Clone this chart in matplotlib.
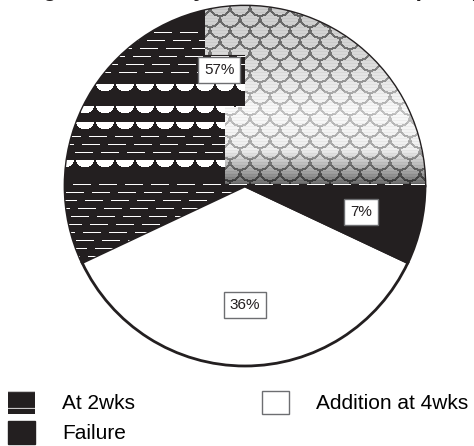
import numpy as np
import matplotlib.pyplot as plt
from matplotlib.patches import Patch

plt.rcParams['font.family'] = ['Liberation Sans', 'DejaVu Sans']
plt.rcParams['hatch.linewidth'] = 0.6

# Data
labels = ['At 2wks', 'Addition at 4wks', 'Failure']
shares = [57, 36, 7]
title = 'Timing of Secondary Dose Modification (n=14)'

black = '#231f20'
grey_edge = '#6d6e71'


def scale_texture(n=360):
    # RGBA texture for the 57% wedge (scan-like fish scales + white dashes)
    X = np.arange(n)[None, :] + 65.5 + np.zeros((n, 1))
    Y = np.arange(n)[:, None] + 6.5 + np.zeros((1, n))
    rgba = np.zeros((n, n, 4))

    grey = (Y < 184) & ((X > 245) | ((Y < 55) & (X > 205)) | ((Y > 107) & (X > 225)))
    base = np.interp(Y, [6, 60, 110, 150, 172, 184], [0.80, 0.86, 0.98, 0.94, 0.64, 0.42])
    ring = np.interp(Y, [6, 60, 110, 150, 172, 184], [0.40, 0.48, 0.78, 0.66, 0.34, 0.22])

    state = np.zeros((n, n), dtype=int)
    for k in reversed(range(-1, 36)):
        cy = 6 + 11 * k
        off = 10 * (k % 2)
        dx = ((X - off + 10) % 20) - 10
        d = np.hypot(dx, Y - cy)
        inside = d < 11
        state[inside] = np.where(d[inside] > 8.8, 2, 1)
    val = np.where(state == 2, ring, base)
    # scanner streaks
    val = val - 0.04 * (Y.astype(int) % 3 == 0)
    rgba[..., 0] = rgba[..., 1] = rgba[..., 2] = np.where(grey, val, 1.0)

    # white dashes and half-discs over the black part
    Yi = Y.astype(int)
    band = ((Y > 25) & (Y < 80)) | ((Y > 135) & (Y < 158)) | (Y > 178)
    dash = band & (Yi % 8 == 0) & (((X + 7 * (Yi // 8)) % 26) < 18)
    disc = np.zeros((n, n), dtype=bool)
    for cy in [84, 106, 122, 160]:
        dx = ((X - 5 + 10) % 20) - 10
        d = np.hypot(dx, (Y - cy) * 1.2)
        disc |= (d < 9) & (Y > cy)
    white = (~grey) & (dash | disc)
    rgba[..., 3] = np.where(grey | white, 1.0, 0.0)
    return rgba


fig = plt.figure(figsize=(4.74, 4.46), dpi=100)
ax = fig.add_axes([65 / 474, 80 / 446, 360 / 474, 360 / 446])

wedges, texts, autotexts = ax.pie(
    shares, labels=None, startangle=0, counterclock=True,
    colors=[black, 'white', black],
    wedgeprops=dict(edgecolor=black, linewidth=2),
    autopct=lambda p: f'{p:.0f}%', pctdistance=0.66,
    textprops=dict(fontsize=11, color=black))
for t in autotexts:
    t.set_bbox(dict(boxstyle='square,pad=0.4', fc='white', ec=grey_edge, lw=1))
    t.set_zorder(5)

img = ax.imshow(scale_texture(), extent=[-1, 1, -1, 1], origin='upper',
                interpolation='nearest', zorder=1.5)
img.set_clip_path(wedges[0])
ax.set_xlim(-1, 1)
ax.set_ylim(-1, 1)
ax.axis('off')

# title sits mostly above the top edge, as in the source image
fig.text(-17 / 474, 1.0085, title, fontsize=16.3, fontweight='bold',
         ha='left', va='baseline', color=black)

handles = [Patch(facecolor=black, edgecolor='white', hatch='-', lw=0),
           Patch(facecolor=black, edgecolor=black),
           Patch(facecolor='white', edgecolor=grey_edge)]
fig.legend(handles, [labels[0], labels[2], labels[1]], loc='upper left',
           bbox_to_anchor=(8 / 474, 1 - 391 / 446), ncol=2, frameon=False,
           fontsize=15, handlelength=1.3, handleheight=1.3, handletextpad=1.3,
           columnspacing=6.1, labelspacing=0.34, borderpad=0, borderaxespad=0)

fig.savefig('out.png', dpi=100)
